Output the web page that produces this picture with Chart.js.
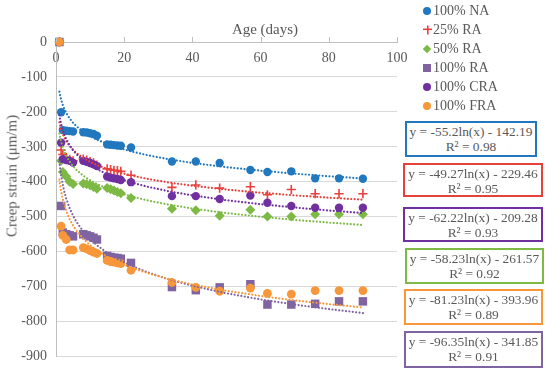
<!DOCTYPE html>
<html>
<head>
<meta charset="utf-8">
<script src="https://cdn.jsdelivr.net/npm/chart.js@4.4.0/dist/chart.umd.min.js"></script>
<style>
  body { margin: 0; background: #fff; }
  #wrap { position: relative; width: 550px; height: 374px; font-family: "Liberation Serif", "Times New Roman", serif; color: #595959; }
  #chart { position: absolute; left: 0; top: 0; }
  .xtitle { position: absolute; left: 265px; top: 29px; transform: translate(-50%, -50%); font-size: 15px; white-space: nowrap; }
  .ytitle { position: absolute; left: 12px; top: 176px; transform: translate(-50%, -50%) rotate(-90deg); font-size: 15px; white-space: nowrap; }
  #legend { position: absolute; left: 421px; top: 1px; font-size: 14px; }
  #legend .row { height: 19.1px; line-height: 19.1px; white-space: nowrap; position: relative; padding-left: 12px; }
  #legend .mk { position: absolute; left: 2px; top: 50%; transform: translate(0, -50%); }
  .eq { position: absolute; border: 2px solid; background: #fff; text-align: center; font-size: 13.4px; line-height: 15px; padding-top: 1px; box-sizing: border-box; white-space: nowrap; }
</style>
</head>
<body>
<div id="wrap">
  <canvas id="chart" width="550" height="374"></canvas>
  <div class="xtitle">Age (days)</div>
  <div class="ytitle">Creep strain (μm/m)</div>
  <div id="legend"></div>
  <div id="eqs"></div>
</div>
<script>
// ages (days)
const days = [1, 1.5, 2, 3, 4, 5, 8, 9, 10, 11, 12, 15, 16, 17, 18, 19, 22, 34, 41, 48, 57, 62, 69, 76, 83, 90];

// creep strain (um/m)
const na100  = [0, -201, -252, -254, -255, -256, -258, -259, -261, -263, -268, -293, -294, -295, -296, -297, -302, -342, -342, -346, -366, -372, -370, -390, -390, -391];
const ra25   = [0, -309, -322, -330, -336, -340, -335, -338, -342, -346, -352, -363, -365, -367, -368, -370, -381, -416, -409, -418, -414, -437, -422, -434, -434, -434];
const ra50   = [0, -340, -372, -385, -400, -406, -405, -407, -410, -415, -420, -418, -421, -425, -429, -433, -446, -477, -481, -497, -480, -499, -499, -493, -493, -493];
const ra100  = [0, -469, -545, -550, -553, -556, -550, -553, -556, -560, -565, -612, -615, -617, -618, -620, -632, -701, -710, -702, -693, -751, -751, -749, -742, -742];
const cra100 = [0, -288, -335, -338, -340, -345, -340, -343, -346, -350, -355, -385, -388, -390, -392, -395, -401, -441, -441, -449, -439, -460, -469, -474, -474, -474];
const fra100 = [0, -527, -553, -565, -595, -595, -588, -592, -597, -601, -605, -625, -628, -630, -632, -634, -653, -688, -702, -713, -704, -719, -721, -711, -711, -711];

const seriesNames = ['100% NA', '25% RA', '50% RA', '100% RA', '100% CRA', '100% FRA'];
const seriesValues = [na100, ra25, ra50, ra100, cra100, fra100];

// log trendlines shown on the chart: y = a ln(x) + b
const fitA  = [-55.2, -49.27, -58.23, -96.35, -62.22, -81.23];
const fitB  = [-142.19, -229.46, -261.57, -341.85, -209.28, -393.96];
const fitR2 = ['0.98', '0.95', '0.92', '0.91', '0.93', '0.89'];
const trendDays = [1, 1.25, 1.5, 2, 2.5, 3, 4, 5, 6, 8, 10, 12, 15, 18, 22, 27, 33, 40, 50, 60, 70, 80, 90];

// order of equation boxes, top to bottom (index into series)
const eqOrder = [0, 1, 4, 2, 5, 3];

const colors = ['#2178BE', '#E8413C', '#7DBA45', '#8064A2', '#7030A0', '#F7973A'];
const pointStyles = ['circle', 'cross', 'rectRot', 'rect', 'circle', 'circle'];
const pointSizes = [4.2, 4.6, 5, 6, 4.2, 4.4];
const muted = '#595959';
const serif = '"Liberation Serif", "Times New Roman", serif';

const datasets = [];
seriesValues.forEach((vals, i) => {
  datasets.push({
    label: seriesNames[i],
    data: days.map((d, k) => ({ x: d, y: vals[k] })),
    showLine: false,
    clip: false,
    pointStyle: pointStyles[i],
    pointRadius: pointSizes[i],
    backgroundColor: colors[i],
    borderColor: colors[i],
    borderWidth: pointStyles[i] === 'cross' ? 1.6 : 0,
    order: -i,
  });
});
seriesValues.forEach((vals, i) => {
  datasets.push({
    label: seriesNames[i] + ' trend',
    type: 'line',
    data: trendDays.map(d => ({ x: d, y: fitA[i] * Math.log(d) + fitB[i] })),
    showLine: true,
    pointRadius: 0,
    borderColor: colors[i],
    borderWidth: 2.2,
    borderDash: [0.01, 3.4],
    borderCapStyle: 'round',
    fill: false,
    order: -10 - i,
  });
});

// small tick marks pointing up from the top x axis
const topTicks = {
  id: 'topTicks',
  afterDraw(chart) {
    const x = chart.scales.x;
    const y0 = chart.scales.y.getPixelForValue(0);
    const ctx = chart.ctx;
    ctx.save();
    ctx.strokeStyle = '#BFBFBF';
    ctx.lineWidth = 1;
    x.ticks.forEach(t => {
      const px = Math.round(x.getPixelForValue(t.value)) + 0.5;
      ctx.beginPath();
      ctx.moveTo(px, y0);
      ctx.lineTo(px, y0 - 5);
      ctx.stroke();
    });
    ctx.restore();
  },
};

new Chart(document.getElementById('chart').getContext('2d'), {
  type: 'scatter',
  data: { datasets },
  plugins: [topTicks],
  options: {
    responsive: false,
    animation: false,
    events: [],
    layout: { padding: { left: 0, right: 153, top: 42, bottom: 10 } },
    plugins: {
      legend: { display: false },
      tooltip: { enabled: false },
    },
    scales: {
      x: {
        type: 'linear',
        min: 0,
        max: 100,
        position: { y: 0 },
        grid: { display: false, drawTicks: false },
        border: { display: true, color: '#BFBFBF' },
        ticks: { stepSize: 20, padding: 8, color: muted, font: { family: serif, size: 14 } },
      },
      y: {
        min: -900,
        max: 0,
        grid: { color: '#D9D9D9', drawTicks: false },
        border: { color: '#BFBFBF' },
        ticks: { stepSize: 100, padding: 9, color: muted, font: { family: serif, size: 14 } },
        afterFit: (scale) => { scale.width = 56; },
      },
    },
  },
});

// legend
const legend = document.getElementById('legend');
seriesNames.forEach((name, i) => {
  const row = document.createElement('div');
  row.className = 'row';
  const mk = document.createElement('span');
  mk.className = 'mk';
  const c = colors[i];
  if (pointStyles[i] === 'cross') {
    mk.style.cssText += 'width:9px;height:9px;background:linear-gradient(' + c + ',' + c + ') center/9px 1.6px no-repeat,linear-gradient(' + c + ',' + c + ') center/1.6px 9px no-repeat;';
  } else if (pointStyles[i] === 'rectRot') {
    mk.style.cssText += 'width:6px;height:6px;background:' + c + ';transform:translate(1px,-50%) rotate(45deg);';
  } else if (pointStyles[i] === 'rect') {
    mk.style.cssText += 'width:8px;height:8px;background:' + c + ';';
  } else {
    mk.style.cssText += 'width:8px;height:8px;border-radius:50%;background:' + c + ';';
  }
  row.appendChild(mk);
  row.appendChild(document.createTextNode(name));
  legend.appendChild(row);
});

// trendline equation boxes
const boxPos = [
  { left: 405, top: 121, width: 132, height: 36 },
  { left: 403, top: 163, width: 140, height: 34 },
  { left: 403, top: 207, width: 140, height: 35 },
  { left: 405, top: 248, width: 139, height: 36 },
  { left: 404, top: 289, width: 139, height: 36 },
  { left: 404, top: 331, width: 139, height: 37 },
];
const eqs = document.getElementById('eqs');
eqOrder.forEach((s, k) => {
  const b = document.createElement('div');
  b.className = 'eq';
  const p = boxPos[k];
  b.style.left = p.left + 'px';
  b.style.top = p.top + 'px';
  b.style.width = p.width + 'px';
  b.style.height = p.height + 'px';
  b.style.borderColor = colors[s];
  const a = fitA[s].toString();
  const bb = Math.abs(fitB[s]).toFixed(2);
  b.innerHTML = 'y = ' + a + 'ln(x) - ' + bb + '<br>R² = ' + fitR2[s];
  eqs.appendChild(b);
});
</script>
</body>
</html>
